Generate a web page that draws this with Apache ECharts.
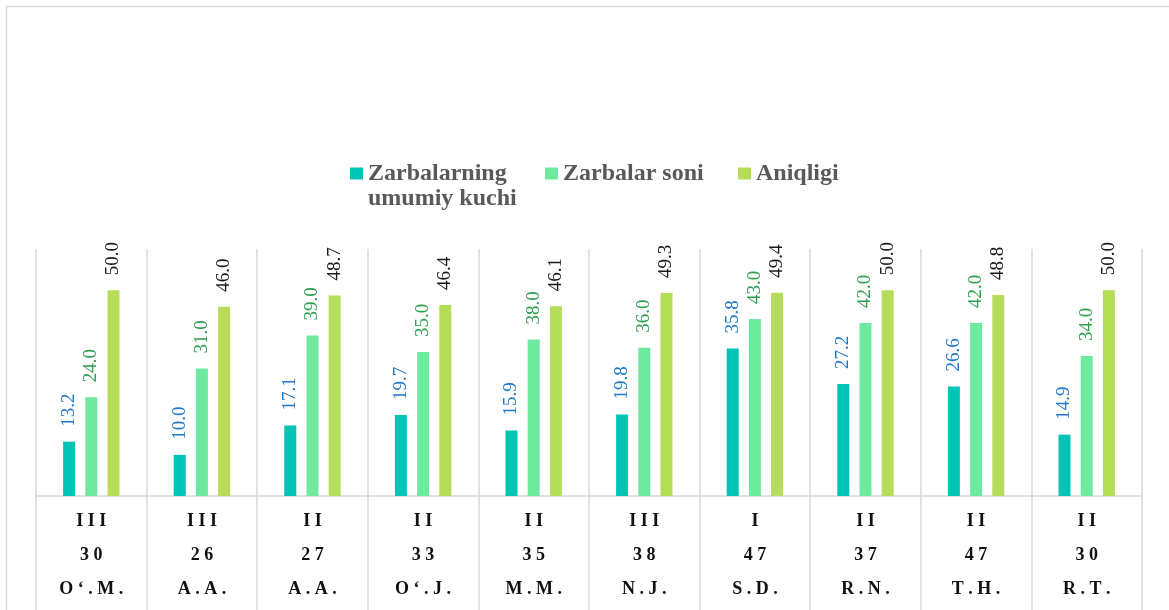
<!DOCTYPE html>
<html>
<head>
<meta charset="utf-8">
<style>
  html, body { margin: 0; padding: 0; background: #fff; }
  #chart { width: 1169px; height: 610px; }
</style>
<script src="https://cdn.jsdelivr.net/npm/echarts@6/dist/echarts.min.js"></script>
</head>
<body>
<div id="chart"></div>
<script>
const seriesNames = ['Zarbalarning umumiy kuchi', 'Zarbalar soni', 'Aniqligi'];
const legendLines = [['Zarbalarning', 'umumiy kuchi'], ['Zarbalar soni'], ['Aniqligi']];
const ranks = ['III', 'III', 'II', 'II', 'II', 'III', 'I', 'II', 'II', 'II'];
const numbers = ['30', '26', '27', '33', '35', '38', '47', '37', '47', '30'];
const names = ['O‘.M.', 'A.A.', 'A.A.', 'O‘.J.', 'M.M.', 'N.J.', 'S.D.', 'R.N.', 'T.H.', 'R.T.'];
const strength = [13.2, 10.0, 17.1, 19.7, 15.9, 19.8, 35.8, 27.2, 26.6, 14.9];
const hits = [24.0, 31.0, 39.0, 35.0, 38.0, 36.0, 43.0, 42.0, 42.0, 34.0];
const accuracy = [50.0, 46.0, 48.7, 46.4, 46.1, 49.3, 49.4, 50.0, 48.8, 50.0];

const colors = ['#00C5B5', '#6EE99E', '#B5DD5A'];
const labelColors = ['#1F78C8', '#2E9E4F', '#1a1a1a'];
const serif = 'Liberation Serif';
const legendFont = { fontFamily: serif, fontWeight: 'bold', fontSize: 24, color: '#595959' };

const spaced = s => s.split('').join('\u2005');
const categories = ranks.map((r, i) => i);

const chart = echarts.init(document.getElementById('chart'));

function mkSeries(idx, data) {
  return {
    name: seriesNames[idx],
    type: 'bar',
    data: data,
    barWidth: 12,
    barGap: '85%',
    itemStyle: { color: colors[idx] },
    label: {
      show: true,
      position: 'top',
      rotate: 90,
      align: 'left',
      verticalAlign: 'middle',
      distance: 15,
      formatter: p => p.value.toFixed(1),
      color: labelColors[idx],
      fontFamily: serif,
      fontSize: 19
    }
  };
}

function mkLegend(idx, left) {
  return {
    data: [seriesNames[idx]],
    left: left,
    top: 160,
    padding: 0,
    itemWidth: 13,
    itemHeight: 12,
    itemGap: 0,
    icon: 'rect',
    formatter: () => legendLines[idx][0],
    textStyle: Object.assign({ lineHeight: 27 }, legendFont)
  };
}

chart.setOption({
  animation: false,
  backgroundColor: '#fff',
  graphic: [{
    type: 'rect',
    shape: { x: 6.5, y: 6.5, width: 1200, height: 700 },
    style: { fill: 'none', stroke: '#d9d9d9', lineWidth: 1.5 },
    z: -10
  }, {
    type: 'text',
    left: 368,
    top: 187,
    style: {
      text: legendLines[0][1],
      font: 'bold 24px "Liberation Serif"',
      fill: '#595959'
    }
  }],
  legend: [mkLegend(0, 350), mkLegend(1, 545), mkLegend(2, 738)],
  grid: { left: 36, right: 27, top: 249, bottom: 114 },
  xAxis: {
    type: 'category',
    data: categories,
    axisLine: { show: true, lineStyle: { color: '#d9d9d9', width: 1.5 } },
    axisTick: { show: true, length: 114, lineStyle: { color: '#d9d9d9', width: 1.5 } },
    splitLine: { show: true, lineStyle: { color: '#d9d9d9', width: 1.5 } },
    axisLabel: {
      interval: 0,
      margin: 8,
      formatter: (v, i) => '{a|' + spaced(ranks[i]) + '}\n{a|' + spaced(numbers[i]) + '}\n{a|' + spaced(names[i]) + '}',
      rich: {
        a: {
          fontFamily: serif,
          fontWeight: 'bold',
          fontSize: 18,
          color: '#111',
          lineHeight: 34,
          align: 'center'
        }
      }
    }
  },
  yAxis: {
    type: 'value',
    min: 0,
    max: 60,
    interval: 10,
    show: false,
    splitLine: { show: false }
  },
  series: [mkSeries(0, strength), mkSeries(1, hits), mkSeries(2, accuracy)]
});
</script>
</body>
</html>
